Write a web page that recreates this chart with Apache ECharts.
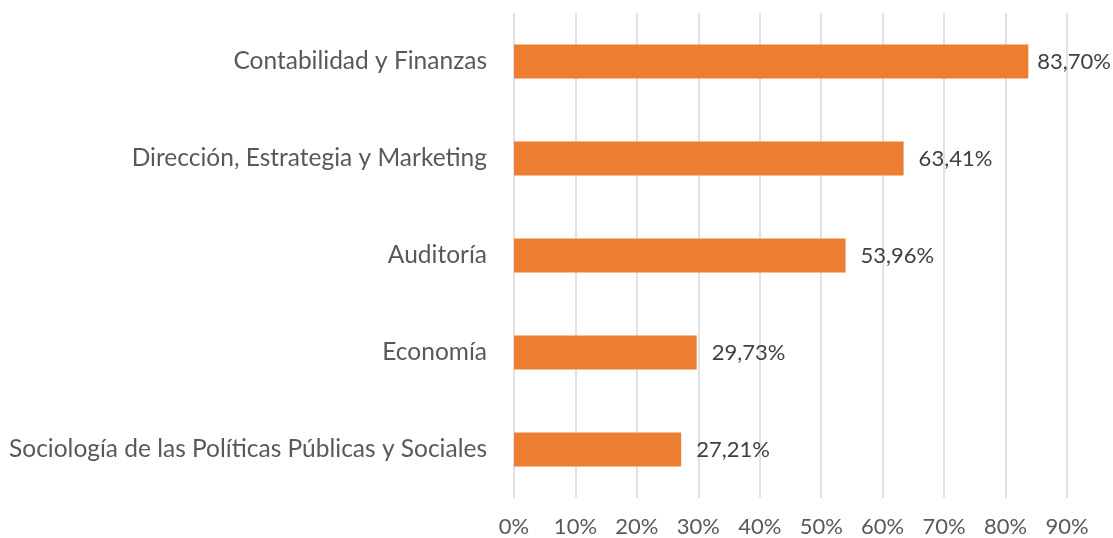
<!DOCTYPE html>
<html>
<head>
<meta charset="utf-8">
<script src="https://cdn.jsdelivr.net/npm/echarts@6/dist/echarts.min.js"></script>
<style>
  html, body { margin: 0; padding: 0; background: #fff; }
  #chart { width: 1113px; height: 538px; }
</style>
</head>
<body>
<div id="chart"></div>
<script>
// categories, top to bottom
const categories = [
  'Contabilidad y Finanzas',
  'Dirección, Estrategia y Marketing',
  'Auditoría',
  'Economía',
  'Sociología de las Políticas Públicas y Sociales'
];
const values = [83.70, 63.41, 53.96, 29.73, 27.21];
const tickLabels = ['0%', '10%', '20%', '30%', '40%', '50%', '60%', '70%', '80%', '90%'];

const font = 'Lato, sans-serif';
const chart = echarts.init(document.getElementById('chart'));

chart.setOption({
  animation: false,
  grid: { left: 514, right: 46, top: 13, bottom: 40, containLabel: false },
  xAxis: {
    type: 'value',
    min: 0,
    max: 90,
    interval: 10,
    axisLine: { show: false },
    axisTick: { show: false },
    splitLine: { lineStyle: { color: '#d9d9d9', width: 1.5 } },
    axisLabel: {
      margin: 18,
      color: '#595959',
      fontFamily: font,
      fontSize: 22,
      formatter: (v) => tickLabels[Math.round(v / 10)]
    }
  },
  yAxis: {
    type: 'category',
    inverse: true,
    data: categories,
    axisLine: { show: false },
    axisTick: { show: false },
    axisLabel: {
      margin: 27,
      color: '#595959',
      fontFamily: font,
      fontSize: 24.5
    }
  },
  series: [{
    type: 'bar',
    barWidth: 34,
    itemStyle: { color: '#ed7d31' },
    label: {
      show: true,
      position: 'right',
      distance: 15,
      color: '#404040',
      fontFamily: font,
      fontSize: 22,
      formatter: (p) => p.value.toFixed(2).replace('.', ',') + '%'
    },
    data: values.map((v, i) => i === 0 ? { value: v, label: { distance: 9 } } : v)
  }]
});
</script>
</body>
</html>
